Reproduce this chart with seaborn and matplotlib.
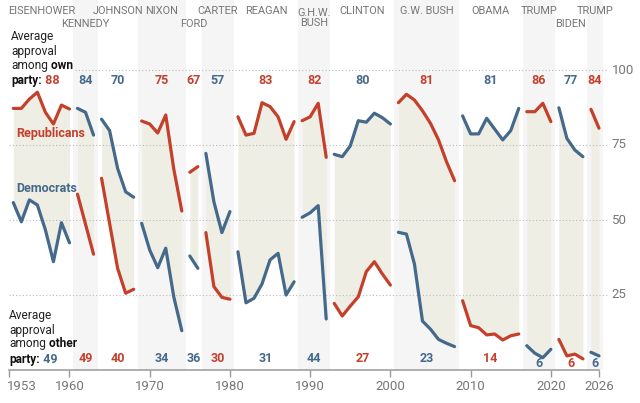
import matplotlib
matplotlib.use("Agg")
import matplotlib.pyplot as plt
import matplotlib.transforms as mtransforms
import numpy as np
import pandas as pd
import seaborn as sns

# ---------------- data ----------------
presidents = ["EISENHOWER", "KENNEDY", "JOHNSON", "NIXON", "FORD", "CARTER", "REAGAN",
              "G.H.W.\nBUSH", "CLINTON", "G.W. BUSH", "OBAMA", "TRUMP", "BIDEN", "TRUMP"]
president_party = ["R", "D", "D", "R", "R", "D", "R", "R", "D", "R", "D", "R", "D", "R"]
first_year = [1953, 1961, 1964, 1969, 1975, 1977, 1981, 1989, 1993, 2001, 2009, 2017, 2021, 2025]

rep_approval = [
    [87.2, 87.2, 90.3, 92.6, 85.9, 82.0, 88.3, 87.0],
    [58.6, 48.6, 38.6],
    [63.9, 48.9, 33.9, 25.6, 26.9],
    [83.0, 82.0, 79.0, 85.0, 67.0, 53.0],
    [65.9, 67.8],
    [45.8, 27.8, 24.2, 23.6],
    [84.4, 78.3, 78.9, 89.1, 87.8, 84.4, 76.9, 82.8],
    [83.1, 84.4, 88.9, 70.9],
    [22.2, 18.0, 21.3, 24.4, 32.8, 36.1, 32.0, 28.3],
    [89.1, 91.9, 90.0, 86.4, 82.2, 76.7, 69.4, 63.1],
    [23.1, 14.8, 14.1, 11.7, 12.0, 10.0, 11.4, 12.0],
    [86.1, 86.1, 88.9, 82.8],
    [10.2, 4.7, 5.3, 3.7],
    [86.9, 80.6],
]
dem_approval = [
    [55.8, 49.4, 56.7, 55.0, 46.7, 36.1, 49.1, 42.4],
    [87.2, 85.9, 78.3],
    [83.6, 79.8, 67.2, 59.4, 57.6],
    [48.9, 40.0, 34.1, 40.6, 24.4, 13.1],
    [38.0, 33.9],
    [72.2, 56.1, 45.8, 52.8],
    [39.4, 22.4, 23.9, 28.7, 36.7, 38.9, 25.0, 29.4],
    [50.9, 52.4, 54.8, 17.0],
    [71.9, 71.1, 74.7, 83.1, 82.6, 85.6, 84.1, 82.0],
    [45.9, 45.3, 35.3, 16.3, 13.6, 10.2, 8.9, 7.8],
    [84.7, 78.7, 78.7, 83.9, 80.3, 76.7, 79.8, 87.2],
    [8.1, 5.6, 4.1, 6.9],
    [87.4, 77.2, 73.3, 71.1],
    [5.9, 4.7],
]
own_party_avg = [88, 84, 70, 75, 67, 57, 83, 82, 80, 81, 81, 86, 77, 84]
other_party_avg = [49, 49, 40, 34, 36, 30, 31, 44, 27, 23, 14, 6, 6, 6]
x_ticks = [1952.5, 1960, 1970, 1980, 1990, 2000, 2010, 2020, 2026]
x_tick_labels = ["1953", "1960", "1970", "1980", "1990", "2000", "2010", "2020", "2026"]
y_grid = [25, 50, 75, 100]

# ---------------- styling ----------------
RED = "#c4402b"
BLUE = "#44698a"
BEIGE = "#efeee5"
BAND = "#f5f5f5"
GRAY_TXT = "#777777"
party_color = {"R": RED, "D": BLUE}

sns.set_theme(style="white")
plt.rcParams["font.family"] = ["Roboto", "DejaVu Sans"]

rows = []
for i, name in enumerate(presidents):
    for k, (r, d) in enumerate(zip(rep_approval[i], dem_approval[i])):
        yr = first_year[i] + k
        rows.append({"president": i, "year": yr, "party": "Republicans", "approval": r})
        rows.append({"president": i, "year": yr, "party": "Democrats", "approval": d})
df = pd.DataFrame(rows)

fig = plt.figure(figsize=(6.4, 4.03), dpi=100)
ax = fig.add_axes([9.3 / 640, 33 / 403, 74 * 8.023 / 640, 370 / 403])
XMIN, XMAX = 1952.5, 2026.5
YMAX = 370 / 3
ax.set_xlim(XMIN, XMAX)
ax.set_ylim(0, YMAX)

# bands and fills
for i in range(len(presidents)):
    years = np.arange(first_year[i], first_year[i] + len(rep_approval[i]))
    if i % 2 == 1:
        ax.axvspan(years[0] - 0.5, years[-1] + 0.5, color=BAND, lw=0, zorder=0)
    ax.fill_between(years, rep_approval[i], dem_approval[i], color=BEIGE, lw=0, zorder=1)

# gridlines (dotted)
for g in y_grid:
    x0 = 1960.7 if g == 100 else XMIN
    ax.hlines(g, x0, 2027.0, colors="#bbbbbb", linestyles=(0, (1, 2)), lw=0.8,
              zorder=2, clip_on=False)
    ax.text(2027.6, g, str(g), ha="left", va="center", color=GRAY_TXT, fontsize=9.5,
            clip_on=False)

sns.lineplot(data=df, x="year", y="approval", hue="party", units="president",
             estimator=None, palette={"Republicans": RED, "Democrats": BLUE},
             linewidth=2.3, legend=False, ax=ax, zorder=3)

# president names
name_row = [0, 1, 0, 0, 1, 0, 0, 0, 0, 0, 0, 0, 1, 0]
for i, name in enumerate(presidents):
    xc = first_year[i] + (len(rep_approval[i]) - 1) / 2
    y = 119.6 if name_row[i] == 0 else 115.2
    if "\n" in name:
        ax.text(xc, 119.6 + 1.2, name, ha="center", va="top", color=GRAY_TXT,
                fontsize=7.9, linespacing=1.05)
    else:
        ax.text(xc, y, name, ha="center", va="center", color=GRAY_TXT, fontsize=7.9)

# own / other party averages
for i in range(1, len(presidents)):
    xc = first_year[i] + (len(rep_approval[i]) - 1) / 2
    own_c = party_color[president_party[i]]
    oth_c = RED if president_party[i] == "D" else BLUE
    ax.text(xc, 96.6, str(own_party_avg[i]), ha="center", va="center", color=own_c,
            fontsize=9, fontweight="bold")
    yo = 2.3 if other_party_avg[i] < 10 else 3.7
    ax.text(xc, yo, str(other_party_avg[i]), ha="center", va="center", color=oth_c,
            fontsize=9, fontweight="bold")

# left annotations (top)
tx = 1952.73
FS = 8.6
ax.text(tx, 111.3, "Average", ha="left", va="center", fontsize=FS, color="#222222")
ax.text(tx, 106.1, "approval", ha="left", va="center", fontsize=FS, color="#222222")
t1 = ax.text(tx, 101.6, "among", ha="left", va="center", fontsize=FS, color="#222222")
ax.annotate(" own", xy=(1, 0), xycoords=t1, ha="left", va="bottom", fontsize=FS,
            fontweight="bold", color="#111111")
t2 = ax.text(tx, 96.6, "party:", ha="left", va="center", fontsize=FS, fontweight="bold",
             color="#111111")
ax.annotate(" " + str(own_party_avg[0]), xy=(1, 0), xycoords=t2, ha="left", va="bottom",
            fontsize=9, fontweight="bold", color=RED)

# left annotations (bottom)
bx = 1952.45
ax.text(bx, 18.1, "Average", ha="left", va="center", fontsize=FS, color="#222222")
ax.text(bx, 13.3, "approval", ha="left", va="center", fontsize=FS, color="#222222")
t3 = ax.text(bx, 8.7, "among", ha="left", va="center", fontsize=FS, color="#222222")
ax.annotate(" other", xy=(1, 0), xycoords=t3, ha="left", va="bottom", fontsize=FS,
            fontweight="bold", color="#111111")
t4 = ax.text(bx, 3.6, "party:", ha="left", va="center", fontsize=FS, fontweight="bold",
             color="#111111")
ax.annotate(" " + str(other_party_avg[0]), xy=(1, 0), xycoords=t4, ha="left", va="bottom",
            fontsize=9, fontweight="bold", color=BLUE)

# series labels
ax.text(1953.36, 78.9, "Republicans", ha="left", va="center", fontsize=9,
        fontweight="bold", color=RED, zorder=4)
ax.text(1953.36, 60.6, "Democrats", ha="left", va="center", fontsize=9,
        fontweight="bold", color=BLUE, zorder=4)

# axes
for s in ["left", "right", "top"]:
    ax.spines[s].set_visible(False)
ax.spines["bottom"].set_color("#999999")
ax.spines["bottom"].set_linewidth(1.1)
ax.spines["bottom"].set_bounds(XMIN, 2026)
ax.set_xticks(x_ticks)
ax.set_xticklabels(x_tick_labels)
ax.set_yticks([])
ax.tick_params(axis="x", direction="out", length=5, width=1, color="#999999",
               labelcolor=GRAY_TXT, labelsize=9.5, pad=2, bottom=True)
first_lab = ax.get_xticklabels()[0]
first_lab.set_ha("left")
first_lab.set_transform(first_lab.get_transform() +
                        mtransforms.ScaledTranslation(-2.5 / 100, 0, fig.dpi_scale_trans))
ax.set_xlabel("")
ax.set_ylabel("")
ax.grid(False)

fig.savefig("out.png", dpi=100)
